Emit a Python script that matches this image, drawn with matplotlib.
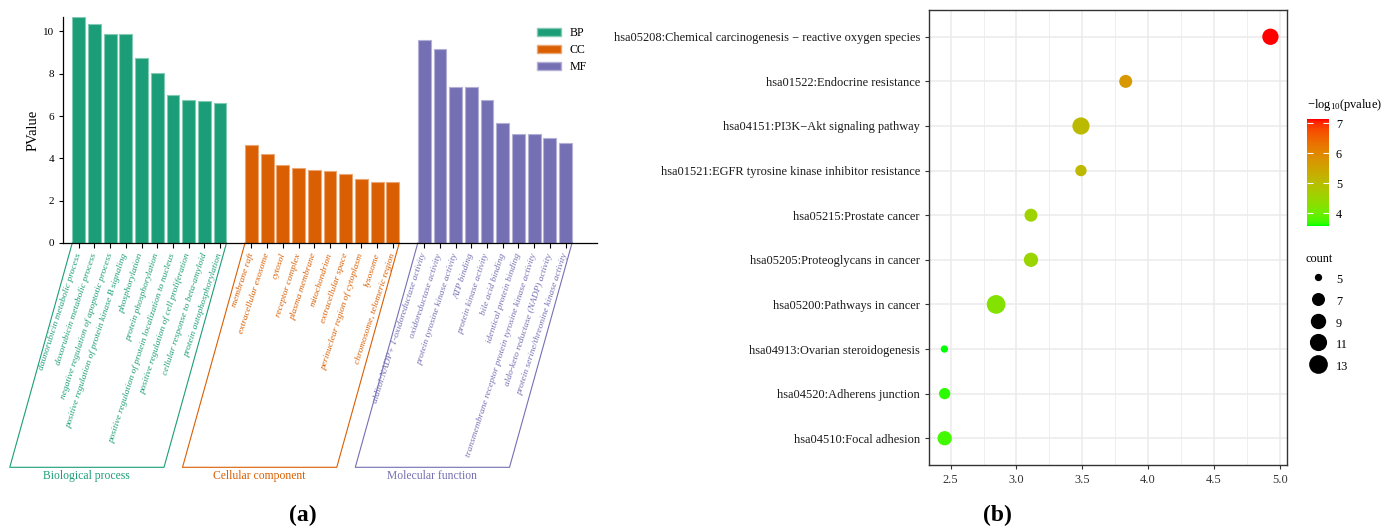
import numpy as np
import matplotlib
matplotlib.use("Agg")
import matplotlib.pyplot as plt
from matplotlib.patches import Patch
from matplotlib.lines import Line2D
from matplotlib.colors import ListedColormap, Normalize
from matplotlib.cm import ScalarMappable

plt.rcParams['font.family'] = ['Liberation Serif', 'DejaVu Serif']
plt.rcParams['mathtext.fontset'] = 'custom'
plt.rcParams['mathtext.rm'] = 'Liberation Serif'
plt.rcParams['mathtext.it'] = 'Liberation Serif:italic'

# ---- GO enrichment (panel a) ----
bp_terms = ['daunorubicin metabolic process', 'doxorubicin metabolic process',
            'negative regulation of apoptotic process',
            'positive regulation of protein kinase B signaling', 'phosphorylation',
            'protein phosphorylation', 'positive regulation of protein localization to nucleus',
            'positive regulation of cell proliferation', 'cellular response to beta-amyloid',
            'protein autophosphorylation']
bp_vals = [10.66, 10.36, 9.89, 9.89, 8.72, 8.01, 6.99, 6.76, 6.72, 6.61]

cc_terms = ['membrane raft', 'extracellular exosome', 'cytosol', 'receptor complex',
            'plasma membrane', 'mitochondrion', 'extracellular space',
            'perinuclear region of cytoplasm', 'lysosome', 'chromosome, telomeric region']
cc_vals = [4.65, 4.19, 3.67, 3.54, 3.43, 3.40, 3.26, 3.04, 2.88, 2.87]

mf_terms = ['alditol:NADP+ 1-oxidoreductase activity', 'oxidoreductase activity',
            'protein tyrosine kinase activity', 'ATP binding', 'protein kinase activity',
            'bile acid binding', 'identical protein binding',
            'transmembrane receptor protein tyrosine kinase activity',
            'aldo-keto reductase (NADP) activity', 'protein serine/threonine kinase activity']
mf_vals = [9.61, 9.18, 7.35, 7.35, 6.77, 5.69, 5.17, 5.13, 4.95, 4.74]

groups = ['BP', 'CC', 'MF']
group_names = ['Biological process', 'Cellular component', 'Molecular function']
group_colors = ['#1b9e77', '#d95f02', '#7570b3']

# ---- KEGG enrichment (panel b), listed top to bottom ----
kegg_terms = ['hsa05208:Chemical carcinogenesis \u2212 reactive oxygen species',
              'hsa01522:Endocrine resistance',
              'hsa04151:PI3K\u2212Akt signaling pathway',
              'hsa01521:EGFR tyrosine kinase inhibitor resistance',
              'hsa05215:Prostate cancer',
              'hsa05205:Proteoglycans in cancer',
              'hsa05200:Pathways in cancer',
              'hsa04913:Ovarian steroidogenesis',
              'hsa04520:Adherens junction',
              'hsa04510:Focal adhesion']
kegg_x = [4.93, 3.83, 3.49, 3.49, 3.11, 3.11, 2.845, 2.452, 2.454, 2.454]
kegg_logp = [7.13, 5.71, 5.08, 5.12, 4.56, 4.53, 4.23, 3.59, 3.66, 3.73]
kegg_count = [10, 7, 11, 6, 7, 8, 13, 5, 6, 8]
count_breaks = [5, 7, 9, 11, 13]


def lighten(c, f):
    rgb = np.array(matplotlib.colors.to_rgb(c))
    return tuple(rgb + (1 - rgb) * f)


def srgb_to_lab(rgb):
    rgb = np.asarray(rgb, float)
    lin = np.where(rgb <= 0.04045, rgb / 12.92, ((rgb + 0.055) / 1.055) ** 2.4)
    M = np.array([[0.4124, 0.3576, 0.1805], [0.2126, 0.7152, 0.0722], [0.0193, 0.1192, 0.9505]])
    xyz = M @ lin / np.array([0.95047, 1.0, 1.08883])
    f = np.where(xyz > (6 / 29) ** 3, np.cbrt(xyz), xyz / (3 * (6 / 29) ** 2) + 4 / 29)
    return np.array([116 * f[1] - 16, 500 * (f[0] - f[1]), 200 * (f[1] - f[2])])


def lab_to_srgb(lab):
    L, a, b = lab
    fy = (L + 16) / 116
    f = np.array([fy + a / 500, fy, fy - b / 200])
    xyz = np.where(f > 6 / 29, f ** 3, 3 * (6 / 29) ** 2 * (f - 4 / 29)) * np.array([0.95047, 1.0, 1.08883])
    Minv = np.array([[3.2406, -1.5372, -0.4986], [-0.9689, 1.8758, 0.0415], [0.0557, -0.2040, 1.0570]])
    lin = np.clip(Minv @ xyz, 0, 1)
    return np.clip(np.where(lin <= 0.0031308, 12.92 * lin, 1.055 * lin ** (1 / 2.4) - 0.055), 0, 1)


# green -> red gradient interpolated in CIELAB
lab_lo = srgb_to_lab([0, 1, 0])
lab_hi = srgb_to_lab([1, 0, 0])
ramp = ListedColormap([lab_to_srgb(lab_lo + t * (lab_hi - lab_lo)) for t in np.linspace(0, 1, 256)])


def point_diam_px(c):
    return 7.3 + 11.4 * np.sqrt((np.asarray(c, float) - 5) / 8)


fig = plt.figure(figsize=(13.95, 5.29), dpi=100)

# ================= panel a =================
ax = fig.add_axes([63 / 1395, 1 - 243 / 529, 534 / 1395, 226 / 529])
all_terms = [bp_terms, cc_terms, mf_terms]
all_vals = [bp_vals, cc_vals, mf_vals]
xpos, xlab, xcol = [], [], []
start = 0
bar_w = 0.82
for g, terms, vals, col in zip(groups, all_terms, all_vals, group_colors):
    pos = np.arange(len(vals)) + start
    ax.bar(pos, vals, width=bar_w, color=col, edgecolor=lighten(col, 0.45), linewidth=0.8, label=g)
    xpos.extend(pos)
    xlab.extend(terms)
    xcol.extend([col] * len(terms))
    start += len(vals) + 1

ax.set_xlim(-1, start)
ax.set_ylim(0, 10.68)
ax.set_yticks([0, 2, 4, 6, 8, 10])
ax.set_xticks(xpos)
ax.set_xticklabels(xlab, rotation=72, ha='right', va='center', rotation_mode='anchor',
                   fontsize=6.8, fontstyle='italic')
for t, c in zip(ax.get_xticklabels(), xcol):
    t.set_color(c)
ax.tick_params(axis='x', length=3.5, width=0.8, pad=4)
ax.tick_params(axis='y', length=3, width=0.8, labelsize=8)
for s in ['top', 'right']:
    ax.spines[s].set_visible(False)
for s in ['left', 'bottom']:
    ax.spines[s].set_linewidth(0.9)
ax.set_ylabel('PValue', fontsize=10.5, labelpad=2)

# slanted frames grouping the rotated labels
box_depth = 10.6
box_shift = 3.98
start = 0
for name, vals, col in zip(group_names, all_vals, group_colors):
    x0 = start - bar_w / 2
    x1 = start + len(vals) - 1 + bar_w / 2
    ax.add_line(Line2D([x0, x0 - box_shift, x1 - box_shift, x1], [0, -box_depth, -box_depth, 0],
                       color=col, lw=0.8, clip_on=False))
    ax.text((x0 + x1) / 2 - box_shift, -box_depth - 0.15, name, color=col, fontsize=8.4,
            ha='center', va='top')
    start += len(vals) + 1

ax.legend(handles=[Patch(facecolor=c, edgecolor=lighten(c, 0.45), label=g)
                   for g, c in zip(groups, group_colors)],
          loc='upper left', bbox_to_anchor=(0.887, 0.955), frameon=False, fontsize=8.6,
          handlelength=2.0, handleheight=0.66, handletextpad=0.75, labelspacing=0.4,
          borderpad=0, borderaxespad=0)

# ================= panel b =================
bx = fig.add_axes([929 / 1395, 1 - 465 / 529, 358 / 1395, 455 / 529])
ypos = np.arange(len(kegg_terms))[::-1] + 1
norm = Normalize(vmin=min(kegg_logp), vmax=max(kegg_logp))
sizes = (point_diam_px(kegg_count) * 0.72) ** 2
bx.scatter(kegg_x, ypos, s=sizes, c=kegg_logp, cmap=ramp, norm=norm, linewidths=0, zorder=3)
bx.set_xlim(2.335, 5.056)
bx.set_ylim(0.4, len(kegg_terms) + 0.6)
bx.set_xticks(np.arange(2.5, 5.01, 0.5))
bx.set_xticks(np.arange(2.75, 5.0, 0.5), minor=True)
bx.set_yticks(ypos)
bx.set_yticklabels(kegg_terms, fontsize=8.9, color='#1a1a1a')
bx.grid(which='major', color='#ebebeb', lw=1.1, zorder=0)
bx.grid(which='minor', axis='x', color='#ebebeb', lw=0.6, zorder=0)
bx.set_axisbelow(True)
bx.tick_params(axis='both', which='major', length=3, width=0.8, color='#333333',
               labelsize=8.9, labelcolor='#333333')
bx.tick_params(axis='y', labelcolor='#1a1a1a')
bx.tick_params(which='minor', length=0)
for s in bx.spines.values():
    s.set_color('#333333')
    s.set_linewidth(1.0)

# colour bar for -log10(pvalue)
cax = fig.add_axes([1307.3 / 1395, 1 - 225.7 / 529, 21.7 / 1395, 106.4 / 529])
cb = fig.colorbar(ScalarMappable(norm=norm, cmap=ramp), cax=cax)
cb.outline.set_visible(False)
cb.set_ticks([4, 5, 6, 7])
cax.tick_params(axis='y', direction='in', color='white', length=4, width=0.8,
                left=True, right=True, labelsize=8.8, pad=5)
fig.text(1307 / 1395, 1 - 105 / 529, '\u2212log$_{10}$(pvalue)', fontsize=9, va='center', ha='left')

# size legend for count
handles = [Line2D([], [], ls='none', marker='o', color='black', markeredgewidth=0,
                  markersize=point_diam_px(c) * 0.72, label=str(c)) for c in count_breaks]
leg = fig.legend(handles=handles, title='count', loc='upper left',
                 bbox_to_anchor=(1306 / 1395, 1 - 253 / 529), frameon=False, fontsize=8.8,
                 title_fontsize=8.8, alignment='left', handlelength=2.0, handleheight=1.6,
                 handletextpad=0.45, labelspacing=0.5, borderpad=0, borderaxespad=0, numpoints=1)

fig.text(303 / 1395, 1 - 515 / 529, '(a)', fontsize=17, fontweight='bold', ha='center', va='center')
fig.text(997 / 1395, 1 - 515 / 529, '(b)', fontsize=17, fontweight='bold', ha='center', va='center')

fig.savefig('out.png', dpi=100)
